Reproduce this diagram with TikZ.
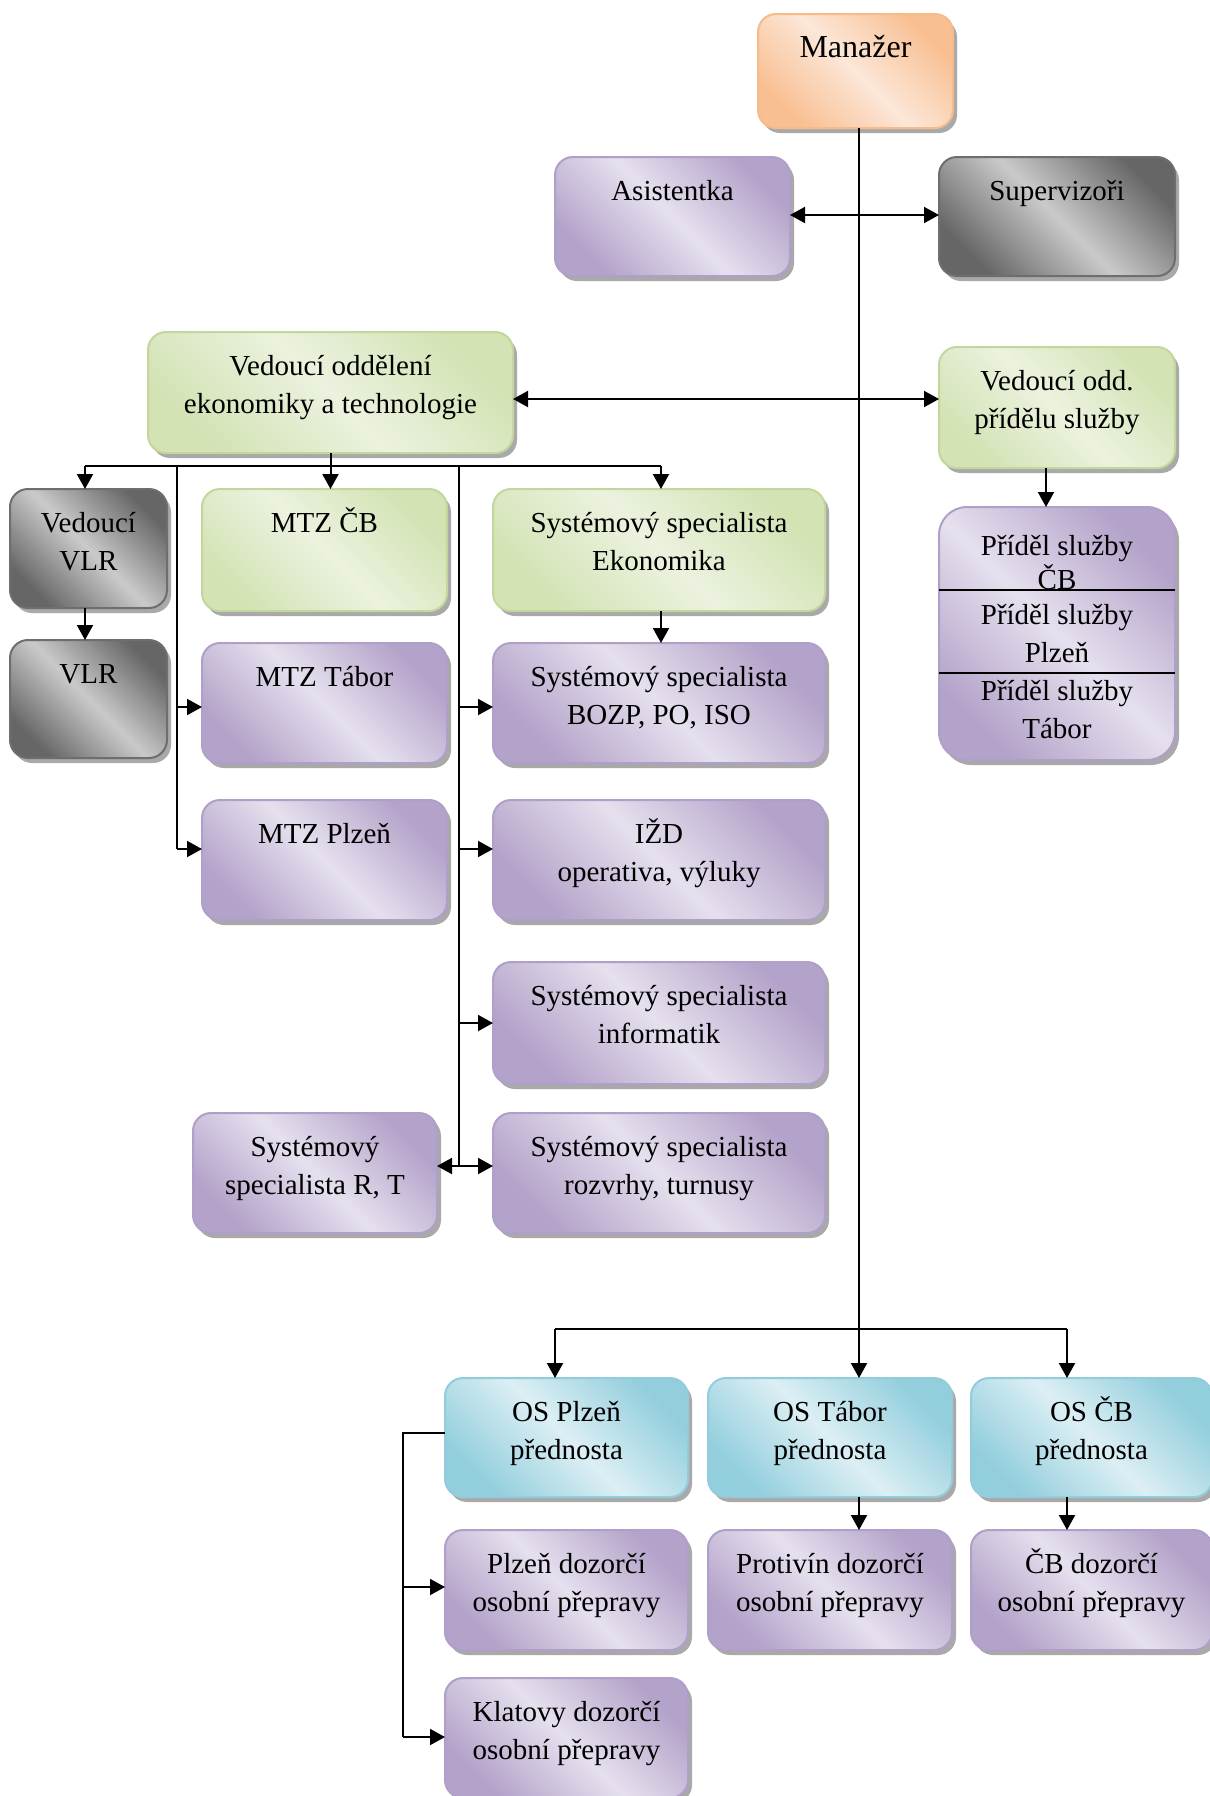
\documentclass[tikz,border=0pt]{standalone}
\usepackage{fontspec}
\setmainfont{Liberation Serif}
\usetikzlibrary{arrows.meta,fit,calc}
\definecolor{orL}{HTML}{FCE7D8}\definecolor{orD}{HTML}{F8BF92}\definecolor{orB}{HTML}{F7BB8A}
\definecolor{puL}{HTML}{E6E0EE}\definecolor{puD}{HTML}{B3A2C9}\definecolor{puB}{HTML}{B09FC8}
\definecolor{grL}{HTML}{EBF2DF}\definecolor{grD}{HTML}{D3E3B4}\definecolor{grB}{HTML}{C3D79D}
\definecolor{gyL}{HTML}{CACACA}\definecolor{gyD}{HTML}{666666}\definecolor{gyB}{HTML}{6E6E6E}
\definecolor{cyL}{HTML}{DCEFF4}\definecolor{cyD}{HTML}{93CEDD}\definecolor{cyB}{HTML}{93CDDC}
\definecolor{shd}{HTML}{A9A9A9}
\tikzset{
  boxbase/.style={rectangle, rounded corners=9pt, line width=1pt, inner sep=0pt, outer sep=0pt},
  orangebox/.style={boxbase, draw=orB, top color=orD, bottom color=orD, middle color=orL, shading angle=-45},
  purplebox/.style={boxbase, draw=puB, top color=puD, bottom color=puD, middle color=puL, shading angle=-45},
  greenbox/.style={boxbase, draw=grB, top color=grD, bottom color=grD, middle color=grL, shading angle=-45},
  greybox/.style={boxbase, draw=gyB, top color=gyD, bottom color=gyD, middle color=gyL, shading angle=-45},
  cyanbox/.style={boxbase, draw=cyB, top color=cyD, bottom color=cyD, middle color=cyL, shading angle=-45},
  txt/.style={align=center, inner sep=0pt, anchor=north, font=\fontsize{14.5}{19.25}\selectfont},
  arr/.style={-{Triangle[length=7.5pt,width=8pt]}, line width=1pt},
  dbl/.style={{Triangle[length=7.5pt,width=8pt]}-{Triangle[length=7.5pt,width=8pt]}, line width=1pt},
  ln/.style={line width=1pt},
}
\newcommand\orgbox[7]{%
  \fill[shd, rounded corners=9pt] ($(#3,#4)+(4,5)$) rectangle ($(#5,#6)+(4,5)$);
  \node[#2, fit={(#3,#4) (#5,#6)}] (#1) {};
  \node[txt] (#1-t) at ($(#1.north)+(0,15)$) {\rule{0pt}{14pt}#7};
}
\begin{document}
\begin{tikzpicture}[x=0.5pt,y=-0.5pt]
\useasboundingbox (0,0) rectangle (1210,1796);
% boxes
\orgbox{man}{orangebox}{758}{14}{953}{128}{\fontsize{16}{20}\selectfont Manažer}
\orgbox{asis}{purplebox}{555}{157}{790}{276}{Asistentka}
\orgbox{sup}{greybox}{939}{157}{1175}{276}{Supervizoři}
\orgbox{ekon}{greenbox}{148}{332}{513}{453}{Vedoucí oddělení\\ekonomiky a technologie}
\orgbox{pridv}{greenbox}{939}{347}{1175}{468}{Vedoucí odd.\\přídělu služby}
\orgbox{vvlr}{greybox}{10}{489}{167}{608}{Vedoucí\\VLR}
\orgbox{mtzcb}{greenbox}{202}{489}{447}{611}{MTZ ČB}
\orgbox{sysek}{greenbox}{493}{489}{825}{611}{Systémový specialista\\Ekonomika}
\fill[shd, rounded corners=14pt] (943,512) rectangle (1179,765);
\node[purplebox, rounded corners=14pt, fit={(939,507) (1175,760)}] (prid) {};
\draw[ln] (prid.west |- 0,590) -- (prid.east |- 0,590);
\draw[ln] (prid.west |- 0,673) -- (prid.east |- 0,673);
\node[txt, font=\fontsize{14.5}{17}\selectfont] (prid-a) at (1057,527) {\rule{0pt}{14pt}Příděl služby\\ČB};
\node[txt] (prid-b) at (1057,596) {\rule{0pt}{14pt}Příděl služby\\Plzeň};
\node[txt] (prid-c) at (1057,672) {\rule{0pt}{14pt}Příděl služby\\Tábor};
\orgbox{vlr}{greybox}{10}{640}{167}{758}{VLR}
\orgbox{mtztab}{purplebox}{202}{643}{447}{763}{MTZ Tábor}
\orgbox{bozp}{purplebox}{493}{643}{825}{763}{Systémový specialista\\BOZP, PO, ISO}
\orgbox{mtzpl}{purplebox}{202}{800}{447}{920}{MTZ Plzeň}
\orgbox{izd}{purplebox}{493}{800}{825}{920}{IŽD\\operativa, výluky}
\orgbox{inf}{purplebox}{493}{962}{825}{1084}{Systémový specialista\\informatik}
\orgbox{rt}{purplebox}{193}{1113}{437}{1233}{Systémový\\specialista R, T}
\orgbox{rozv}{purplebox}{493}{1113}{825}{1233}{Systémový specialista\\rozvrhy, turnusy}
\orgbox{osplz}{cyanbox}{445}{1378}{688}{1497}{OS Plzeň\\přednosta}
\orgbox{ostab}{cyanbox}{708}{1378}{952}{1497}{OS Tábor\\přednosta}
\orgbox{oscb}{cyanbox}{971}{1378}{1212}{1497}{OS ČB\\přednosta}
\orgbox{plzdoz}{purplebox}{445}{1530}{688}{1650}{Plzeň dozorčí\\osobní přepravy}
\orgbox{protiv}{purplebox}{708}{1530}{952}{1650}{Protivín dozorčí\\osobní přepravy}
\orgbox{cbdoz}{purplebox}{971}{1530}{1212}{1650}{ČB dozorčí\\osobní přepravy}
\orgbox{klat}{purplebox}{445}{1678}{688}{1798}{Klatovy dozorčí\\osobní přepravy}
% coordinates
\coordinate (spine) at (859,128);
\coordinate (busL) at (85,466);
\coordinate (busR) at (661,466);
\coordinate (l1) at (177,466);
\coordinate (l2) at (459,466);
\coordinate (l1a) at (177,707);
\coordinate (l1b) at (177,849);
\coordinate (l2a) at (459,707);
\coordinate (l2b) at (459,849);
\coordinate (l2c) at (459,1023);
\coordinate (l2d) at (459,1166);
\coordinate (bb1) at (555,1329);
\coordinate (bb2) at (1067,1329);
\coordinate (pd) at (1046,468);
\coordinate (pl) at (403,1433);
\coordinate (pla) at (403,1587);
\coordinate (plb) at (403,1737);
% connectors
\draw[arr] (man.south -| spine) -- (ostab.north -| spine);
\draw[dbl] (asis.east |- 0,215) -- (sup.west |- 0,215);
\draw[dbl] (ekon.east |- 0,399) -- (pridv.west |- 0,399);
\draw[arr] (ekon.south) -- (ekon.south |- mtzcb.north);
\draw[ln] (busL) -- (busR);
\draw[arr] (busL) -- (busL |- vvlr.north);
\draw[arr] (busR) -- (busR |- sysek.north);
\draw[arr] (vvlr.south -| busL) -- (vlr.north -| busL);
\draw[arr] (sysek.south -| busR) -- (bozp.north -| busR);
\draw[ln] (l1) -- (l1b);
\draw[arr] (l1a) -- (mtztab.west |- l1a);
\draw[arr] (l1b) -- (mtzpl.west |- l1b);
\draw[ln] (l2) -- (l2d);
\draw[arr] (l2a) -- (bozp.west |- l2a);
\draw[arr] (l2b) -- (izd.west |- l2b);
\draw[arr] (l2c) -- (inf.west |- l2c);
\draw[dbl] (rt.east |- l2d) -- (rozv.west |- l2d);
\draw[arr] (pridv.south -| pd) -- (prid.north -| pd);
\draw[ln] (bb1) -- (bb2);
\draw[arr] (bb1) -- (bb1 |- osplz.north);
\draw[arr] (bb2) -- (bb2 |- oscb.north);
\draw[arr] (ostab.south -| spine) -- (protiv.north -| spine);
\draw[arr] (oscb.south -| bb2) -- (cbdoz.north -| bb2);
\draw[ln] (osplz.west |- pl) -- (pl) -- (plb);
\draw[arr] (pla) -- (plzdoz.west |- pla);
\draw[arr] (plb) -- (klat.west |- plb);
\end{tikzpicture}
\end{document}
